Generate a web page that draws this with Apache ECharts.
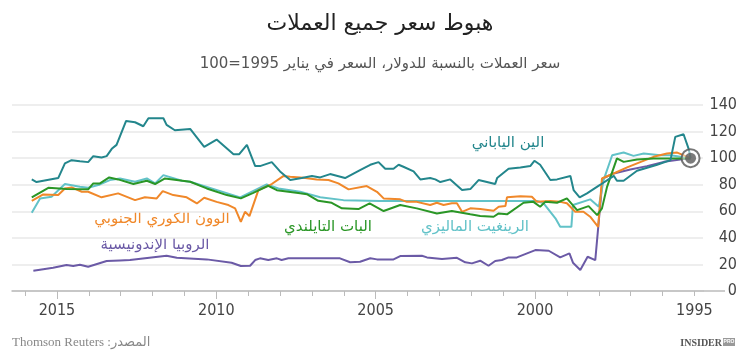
<!DOCTYPE html>
<html>
<head>
<meta charset="utf-8">
<script src="https://cdn.jsdelivr.net/npm/echarts@6/dist/echarts.min.js"></script>
<style>html,body{margin:0;padding:0;background:#fff}#c{width:750px;height:358px}</style>
</head>
<body>
<div id="c"></div>
<script>
// ---- Data (year, index value; Jan 1995 = 100) ----
const yenData = [[2015.79,84],[2015.64,82],[2014.96,85],[2014.75,96],[2014.54,98.5],[2014.28,97.7],[2014.02,97],[2013.86,101.5],[2013.60,100.5],[2013.44,101.5],[2013.28,107],[2013.13,110],[2012.83,128],[2012.55,127],[2012.29,124],[2012.13,130],[2011.66,130],[2011.56,125],[2011.30,121],[2010.82,122],[2010.38,108.5],[2009.99,114],[2009.46,103],[2009.28,103],[2009.04,110],[2008.78,94],[2008.63,94],[2008.26,97],[2008.00,90],[2007.68,83.5],[2007.32,85],[2007.00,86.5],[2006.74,85.5],[2006.43,88],[2005.96,85],[2005.49,91],[2005.17,95],[2004.91,97],[2004.70,92],[2004.44,92],[2004.28,95],[2004.13,93.5],[2003.81,90],[2003.60,84],[2003.29,85],[2003.13,84],[2002.97,82],[2002.66,84],[2002.29,76],[2002.03,76.7],[2001.77,83.5],[2001.51,82],[2001.25,80.5],[2001.19,85],[2000.83,92],[2000.46,93],[2000.15,94],[2000.02,98],[1999.84,95],[1999.52,83.5],[1999.31,84],[1998.89,86.5],[1998.79,76],[1998.60,70.5],[1998.37,73.5],[1997.95,80],[1997.53,86.7],[1997.43,83],[1997.22,83],[1996.80,90.5],[1996.17,95],[1995.75,98.5],[1995.60,116],[1995.34,118],[1995.18,107],[1995.12,100]];
const wonData = [[2015.79,67.9],[2015.43,72.7],[2014.96,72.2],[2014.75,77.2],[2014.54,78],[2014.22,74.7],[2014.02,74.7],[2013.60,70.5],[2013.08,73.5],[2012.55,68.4],[2012.24,70.5],[2011.87,69.7],[2011.68,75.2],[2011.35,72.2],[2010.93,70.5],[2010.61,65.9],[2010.38,70.2],[2009.99,67.1],[2009.62,64.7],[2009.41,62.2],[2009.23,52.1],[2009.10,59.6],[2008.96,56.4],[2008.68,75.9],[2008.26,80.5],[2007.90,86.5],[2007.68,86],[2007.27,85.2],[2006.85,84],[2006.48,83.5],[2006.17,81],[2005.85,76.5],[2005.28,79],[2004.96,74.7],[2004.75,69.7],[2004.23,69],[2004.02,67.1],[2003.71,67.1],[2003.29,64.7],[2003.08,66.4],[2002.87,64.7],[2002.61,66],[2002.45,66],[2002.29,59.6],[2002.03,62.2],[2001.72,61.7],[2001.30,60.4],[2001.14,63.4],[2000.93,63.9],[2000.88,70.5],[2000.46,71.4],[2000.10,70.9],[1999.94,67.1],[1999.52,67.7],[1999.21,67.1],[1999.00,66],[1998.74,59.6],[1998.48,59.6],[1998.27,55.9],[1998.02,48.3],[1997.90,84.7],[1997.48,89],[1997.11,93],[1996.70,97],[1996.28,101],[1995.86,103.5],[1995.54,104.2],[1995.12,100]];
const bahtData = [[2015.79,70.5],[2015.27,77.7],[2014.70,76.7],[2014.02,76.5],[2013.86,81],[2013.65,81],[2013.36,85.5],[2013.08,84],[2012.60,80.5],[2012.18,83],[2011.92,80.5],[2011.61,84.7],[2010.82,82.2],[2010.30,77.2],[2009.67,72.2],[2009.23,69.7],[2008.84,73.9],[2008.37,79.2],[2008.10,75.9],[2007.37,73.5],[2007.16,72.9],[2006.80,67.9],[2006.38,66.4],[2006.06,62.2],[2005.54,61.7],[2005.19,66],[2004.75,60.2],[2004.23,64.7],[2003.71,62.2],[2003.08,58.4],[2002.61,60.2],[2002.03,57.7],[2001.72,56.4],[2001.30,55.9],[2001.14,58.4],[2000.88,57.7],[2000.36,66.4],[2000.05,67.1],[1999.84,63.4],[1999.68,67.1],[1999.31,66.4],[1999.00,69.7],[1998.68,60.9],[1998.32,63.9],[1998.05,57.1],[1997.90,62.2],[1997.74,78.4],[1997.43,99.8],[1997.22,97.2],[1996.80,99],[1996.28,99.8],[1995.12,99.8]];
const ringgitData = [[2015.79,58.9],[2015.53,69.7],[2015.17,70.9],[2014.75,80.5],[2014.28,78.4],[2014.02,77.7],[2013.65,80.2],[2013.34,83.5],[2013.02,84.7],[2012.55,82.2],[2012.18,84.7],[2011.92,81],[2011.66,87.2],[2011.08,83],[2010.82,82.2],[2009.25,70.5],[2008.42,80.2],[2008.05,77.2],[2007.37,74.7],[2006.74,70.5],[2006.01,68.4],[2004.86,67.7],[1999.94,67.7],[1999.73,66],[1999.36,54.7],[1999.21,48.3],[1998.86,48.3],[1998.81,64.7],[1998.27,69],[1998.00,63.4],[1997.85,83.5],[1997.58,102.2],[1997.22,104.2],[1996.91,101.7],[1996.59,103.5],[1996.07,102.2],[1995.75,102.2],[1995.12,100]];
const rupiahData = [[2015.74,15.3],[2015.12,17.5],[2014.70,19.5],[2014.49,18.8],[2014.28,19.8],[2014.02,18.3],[2013.44,22.6],[2013.02,23],[2012.71,23.3],[2011.56,26.5],[2011.24,25],[2010.30,23.8],[2009.52,21.3],[2009.23,18.8],[2008.94,19],[2008.78,23.3],[2008.63,24.6],[2008.37,23.3],[2008.10,24.6],[2007.95,23.3],[2007.74,24.6],[2007.48,24.6],[2006.12,24.6],[2005.80,21.6],[2005.49,22],[2005.17,24.6],[2004.96,23.8],[2004.44,23.8],[2004.23,26.3],[2003.55,26.5],[2003.39,25.3],[2002.92,24.1],[2002.45,25],[2002.19,21.6],[2001.98,20.8],[2001.72,22.8],[2001.46,19],[2001.25,22.6],[2001.04,23.3],[2000.83,25.3],[2000.57,25.3],[1999.99,30.8],[1999.57,30.3],[1999.21,25.3],[1998.92,28.3],[1998.81,21.3],[1998.58,15.8],[1998.35,25.8],[1998.11,23.3],[1997.88,84.7],[1997.53,88.5],[1997.01,91.5],[1996.49,94],[1995.96,97.2],[1995.44,99],[1995.12,100]];
const endPoint = [[1995.12,100]];

const yearTicks = [1995,1996,1997,1998,1999,2000,2001,2002,2003,2004,2005,2006,2007,2008,2009,2010,2011,2012,2013,2014,2015,2016];
const majorTicks = [2000,2005,2010,2015];
const yearLabels = [1995,2000,2005,2010,2015];

const names = {
  yen: 'الين الياباني',
  won: 'الوون الكوري الجنوبي',
  baht: 'البات التايلندي',
  ringgit: 'الرينغيت الماليزي',
  rupiah: 'الروبيا الإندونيسية'
};
const colors = {yen:'#23868c', won:'#f0882a', baht:'#2a9626', ringgit:'#62c2c8', rupiah:'#6b5aa6'};

const ar = '"DejaVu Sans", "Noto Sans", sans-serif';
const num = '"Liberation Sans Narrow", "DejaVu Sans Condensed", "Roboto", sans-serif';

function line(key, data){
  return {type:'line', name:names[key], data:data, showSymbol:false, symbol:'none',
    lineStyle:{color:colors[key], width:2}, itemStyle:{color:colors[key]}, z:3, animation:false};
}

const chart = echarts.init(document.getElementById('c'));
chart.setOption({
  animation:false,
  title:[
    {text:'هبوط سعر جميع العملات', left:375, top:8, textAlign:'center',
     textStyle:{fontFamily:ar, fontSize:22, fontWeight:'normal', color:'#222'}},
    {text:'سعر العملات بالنسبة للدولار، السعر في يناير 1995=100', left:375, top:52, textAlign:'center',
     textStyle:{fontFamily:ar, fontSize:15, fontWeight:'normal', color:'#555'}}
  ],
  grid:{left:12, right:47, top:105, bottom:67},
  xAxis:[
    {type:'value', min:1994.73, max:2016.41, inverse:true,
     axisLine:{show:true, lineStyle:{color:'#bbbbbb', width:1.5}},
     axisTick:{show:true, customValues:yearTicks, length:5, lineStyle:{color:'#bbbbbb'}},
     axisLabel:{show:true, customValues:yearLabels, margin:12, fontFamily:num, fontSize:16, color:'#444',
       formatter:v=>String(v)},
     splitLine:{show:false}},
    {type:'value', min:1994.73, max:2016.41, inverse:true, position:'bottom',
     axisLine:{show:false},
     axisTick:{show:true, customValues:majorTicks, length:8, lineStyle:{color:'#bbbbbb'}},
     axisLabel:{show:false}, splitLine:{show:false}}
  ],
  yAxis:{type:'value', min:0, max:140, interval:20, position:'right',
    axisLine:{show:false}, axisTick:{show:false},
    axisLabel:{align:'right', margin:34, fontFamily:num, fontSize:16, color:'#444'},
    splitLine:{lineStyle:{color:'#e8e8e8', width:1.5}}},
  series:[
    line('rupiah', rupiahData),
    line('ringgit', ringgitData),
    line('won', wonData),
    line('baht', bahtData),
    line('yen', yenData),
    {type:'scatter', data:endPoint, symbol:'circle', symbolSize:18, z:5, silent:true,
     itemStyle:{color:'rgba(255,255,255,0.6)', borderColor:'#555', borderWidth:2}},
    {type:'scatter', data:endPoint, symbol:'circle', symbolSize:11, z:6, silent:true,
     itemStyle:{color:'#5a5a5a'}}
  ],
  graphic:[
    {type:'line', shape:{x1:703, y1:291, x2:725, y2:291}, style:{stroke:'#bbbbbb', lineWidth:1.5}, silent:true},
    {type:'text', x:508, y:143, style:{text:names.yen, fill:colors.yen, font:'15px '+ar, align:'center', verticalAlign:'middle'}},
    {type:'text', x:162, y:219, style:{text:names.won, fill:colors.won, font:'15px '+ar, align:'center', verticalAlign:'middle'}},
    {type:'text', x:328, y:227, style:{text:names.baht, fill:colors.baht, font:'15px '+ar, align:'center', verticalAlign:'middle'}},
    {type:'text', x:475, y:227, style:{text:names.ringgit, fill:colors.ringgit, font:'15px '+ar, align:'center', verticalAlign:'middle'}},
    {type:'text', x:155, y:245, style:{text:names.rupiah, fill:colors.rupiah, font:'15px '+ar, align:'center', verticalAlign:'middle'}},
    {type:'text', x:12, y:343, style:{text:'Thomson Reuters :المصدر', fill:'#888', font:'13px "Liberation Serif", "DejaVu Sans", serif', align:'left', verticalAlign:'middle'}},
    {type:'text', x:722, y:343, style:{text:'INSIDER', fill:'#555', font:'bold 10px "Liberation Serif", serif', align:'right', verticalAlign:'middle'}},
    {type:'rect', shape:{x:723, y:338, width:12, height:8}, style:{fill:'#999'}},
    {type:'text', x:729, y:342, style:{text:'PRO', fill:'#fff', font:'bold 5px "Liberation Sans", sans-serif', align:'center', verticalAlign:'middle'}}
  ]
});
</script>
</body>
</html>
